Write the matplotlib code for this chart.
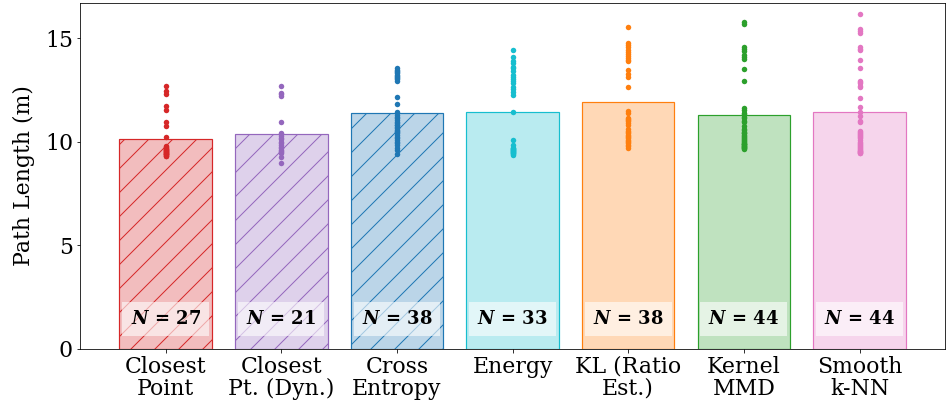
import numpy as np
import matplotlib
matplotlib.use("Agg")
import matplotlib.pyplot as plt

plt.rcParams["font.family"] = ["DejaVu Serif"]
plt.rcParams["mathtext.fontset"] = "dejavuserif"

methods = ["Closest\nPoint", "Closest\nPt. (Dyn.)", "Cross\nEntropy", "Energy",
           "KL (Ratio\nEst.)", "Kernel\nMMD", "Smooth\nk-NN"]
colors = ["tab:red", "tab:purple", "tab:blue", "tab:cyan",
          "tab:orange", "tab:green", "tab:pink"]
hatches = ["/", "/", "/", None, None, None, None]

# Per-episode path lengths (m) for each method
closest_point = [12.70, 12.48, 12.32, 11.72, 11.56, 10.95, 10.76, 10.22,
                 9.31, 9.34, 9.37, 9.40, 9.42, 9.44, 9.46, 9.49, 9.51, 9.53,
                 9.55, 9.58, 9.60, 9.62, 9.65, 9.68, 9.72, 9.75, 9.79]
closest_pt_dyn = [12.70, 12.38, 12.24, 10.95, 10.39, 10.18, 10.01, 9.86,
                  9.61, 9.45, 9.29, 9.00, 12.34, 10.45, 10.30, 10.12, 9.95,
                  9.78, 9.70, 9.55, 9.52]
cross_entropy = [13.56, 13.45, 13.32, 13.19, 13.08, 12.96, 12.19, 11.84,
                 11.46, 11.30, 11.14, 10.98, 10.82, 10.66, 10.50, 10.34,
                 10.18, 10.01, 9.70, 9.61, 9.42, 13.50, 13.40, 13.25, 13.12,
                 13.02, 10.80, 10.55, 11.22, 11.06, 10.90, 10.74, 10.58,
                 10.42, 10.26, 10.10, 9.95, 9.85]
energy = [14.44, 14.09, 13.80, 13.64, 13.45, 13.24, 13.03, 12.84, 12.64,
          12.43, 12.27, 11.43, 10.10, 9.86, 9.70, 9.53, 9.37, 13.90, 13.55,
          13.15, 12.95, 12.55, 9.40, 9.45, 9.48, 9.52, 9.55, 9.58, 9.60,
          9.62, 9.65, 9.68, 9.72]
kl_ratio = [15.54, 14.80, 14.57, 14.36, 14.17, 13.96, 13.48, 13.13, 12.65,
            11.51, 11.18, 11.06, 10.90, 10.54, 10.42, 10.25, 10.10, 9.94,
            9.73, 14.70, 14.45, 14.25, 14.05, 13.90, 13.30, 11.40, 11.12,
            11.00, 10.80, 10.65, 10.48, 10.35, 10.30, 10.18, 10.05, 9.98,
            9.85, 9.80]
kernel_mmd = [15.69, 14.60, 14.41, 14.20, 14.01, 13.51, 12.96, 11.63, 11.42,
              11.22, 11.03, 10.58, 10.42, 10.25, 10.10, 9.90, 9.70, 15.80,
              14.50, 14.10, 11.55, 11.35, 11.15, 10.95, 10.75, 10.65, 10.50,
              10.45, 10.35, 10.30, 10.20, 10.15, 10.05, 10.00, 9.95, 9.92,
              9.88, 9.85, 9.82, 9.80, 9.78, 9.75, 9.72, 9.68]
smooth_knn = [16.18, 15.44, 15.25, 14.57, 14.44, 13.96, 13.59, 12.95, 12.84,
              12.64, 12.14, 11.68, 11.46, 11.26, 11.03, 10.55, 10.34, 10.18,
              10.01, 9.86, 9.70, 9.50, 15.35, 14.50, 12.90, 12.70, 10.45,
              10.30, 10.95, 10.50, 10.40, 10.25, 10.10, 9.95, 9.90, 9.80,
              9.75, 9.68, 9.62, 9.58, 9.55, 9.52, 9.48, 9.45]

series = [closest_point, closest_pt_dyn, cross_entropy, energy,
          kl_ratio, kernel_mmd, smooth_knn]

DPI = 72
fig, ax = plt.subplots(figsize=(947 / DPI, 410 / DPI), dpi=DPI)
fig.subplots_adjust(left=0.0845, right=0.998, top=0.9927, bottom=0.1488)

x = np.arange(len(methods))
means = [np.mean(v) for v in series]

for i, (vals, c, h) in enumerate(zip(series, colors, hatches)):
    ax.bar(x[i], means[i], width=0.8, color=c, alpha=0.3, zorder=1)
    ax.bar(x[i], means[i], width=0.8, facecolor="none", edgecolor=c,
           hatch=h, linewidth=1.2, zorder=2)
    ax.scatter(np.full(len(vals), x[i]), vals, s=30, color=c, zorder=3,
               linewidths=0)
    ax.text(x[i], 1.45, rf"$\boldsymbol{{N}}$ = {len(vals)}",
            ha="center", va="center", fontsize=18, fontweight="bold",
            zorder=4,
            bbox=dict(boxstyle="square,pad=0.45", facecolor="white",
                      edgecolor="none", alpha=0.6))

ymax = max(max(v) for v in series)
ax.set_ylim(0, ymax * 1.033)
ax.set_xticks(x)
ax.set_xticklabels(methods, fontsize=22, linespacing=1.0)
ax.set_yticks([0, 5, 10, 15])
ax.tick_params(axis="y", labelsize=22)
ax.set_ylabel("Path Length (m)", fontsize=22, labelpad=10)

fig.savefig("out.png", dpi=DPI)
